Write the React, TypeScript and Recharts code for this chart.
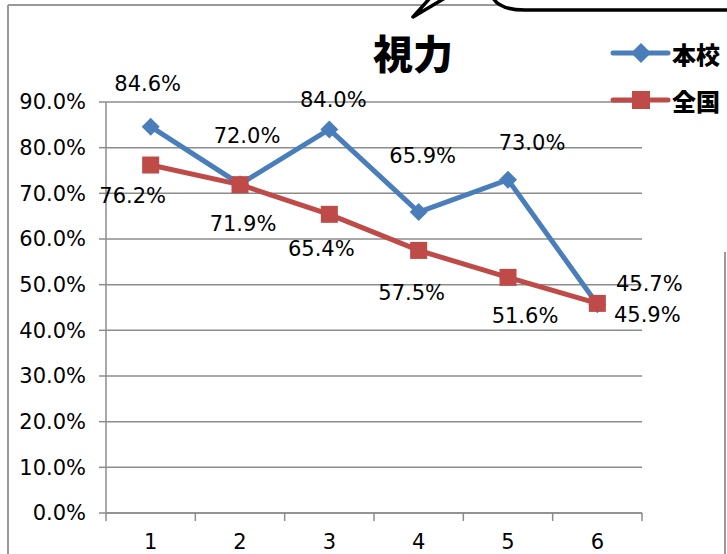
import React from "react";
import { LineChart, Line, XAxis, YAxis, CartesianGrid, LabelList } from "recharts";

const categories = [1, 2, 3, 4, 5, 6];
const schoolValues = [84.6, 72.0, 84.0, 65.9, 73.0, 45.7];
const nationalValues = [76.2, 71.9, 65.4, 57.5, 51.6, 45.9];
const yTicks = [0, 10, 20, 30, 40, 50, 60, 70, 80, 90];
const seriesNames = ["本校", "全国"];
const title = "視力";

// hand placed data labels, as in the original sheet
const schoolLabelOffsets = [
  [-3, -43], [7, -48], [4, -29], [4, -56], [24, -37], [52, -20],
];
const nationalLabelOffsets = [
  [-18, 31], [3, 39], [-8, 35], [-7, 43], [17, 39], [50, 12],
];

const data = categories.map((c, i) => ({
  x: c,
  school: schoolValues[i],
  national: nationalValues[i],
}));

const BLUE = "#4a7ebb";
const RED = "#be4b48";
const GRID = "#8c8c8c";
const FONT = "'DejaVu Sans', sans-serif";
const JP = "'Noto Sans CJK JP', sans-serif";

const W = 727;
const H = 554;
const PLOT_LEFT = 106;
const PLOT_RIGHT = 642;
const X_AXIS_H = 30;
const HALF_BAND = (PLOT_RIGHT - PLOT_LEFT) / categories.length / 2;

const Diamond = (props: any) => {
  const { cx, cy } = props;
  if (cx == null || cy == null) return null;
  const r = 9;
  return (
    <polygon
      points={`${cx},${cy - r} ${cx + r},${cy} ${cx},${cy + r} ${cx - r},${cy}`}
      fill={BLUE}
    />
  );
};

const Square = (props: any) => {
  const { cx, cy } = props;
  if (cx == null || cy == null) return null;
  const s = 17;
  return <rect x={cx - s / 2} y={cy - s / 2} width={s} height={s} fill={RED} />;
};

const makeLabel = (offsets: number[][]) => (props: any) => {
  const { x, y, value, index } = props;
  const [dx, dy] = offsets[index] || [0, 0];
  return (
    <text
      x={x + dx}
      y={y + dy}
      textAnchor="middle"
      dominantBaseline="central"
      fontFamily={FONT}
      fontSize={21}
      fill="#000"
    >
      {Number(value).toFixed(1)}%
    </text>
  );
};

const XTick = (props: any) => {
  const { x, y, payload } = props;
  const last = payload.value === categories[categories.length - 1];
  return (
    <g>
      <line x1={x - HALF_BAND} y1={y} x2={x - HALF_BAND} y2={y + 8} stroke={GRID} strokeWidth={1.5} />
      {last && (
        <line x1={x + HALF_BAND} y1={y} x2={x + HALF_BAND} y2={y + 8} stroke={GRID} strokeWidth={1.5} />
      )}
      <text
        x={x}
        y={y + 29}
        textAnchor="middle"
        dominantBaseline="central"
        fontFamily={FONT}
        fontSize={21}
        fill="#000"
      >
        {payload.value}
      </text>
    </g>
  );
};

const LegendRow = ({ y, color, name, marker }: any) => (
  <g>
    <line x1={613} y1={y} x2={668} y2={y} stroke={color} strokeWidth={5} strokeLinecap="round" />
    {marker === "diamond" ? (
      <polygon points={`641,${y - 10} 651,${y} 641,${y + 10} 631,${y}`} fill={color} />
    ) : (
      <rect x={632} y={y - 9} width={18} height={18} fill={color} />
    )}
    <text
      x={672}
      y={y}
      dominantBaseline="central"
      fontFamily={JP}
      fontWeight={900}
      fontSize={24}
      fill="#000"
    >
      {name}
    </text>
  </g>
);

export default function App() {
  return (
    <div
      style={{
        position: "absolute",
        left: 0,
        top: 0,
        width: W,
        height: H,
        background: "#fff",
        overflow: "hidden",
      }}
    >
      <LineChart
        width={W}
        height={H}
        data={data}
        margin={{ top: 102, right: W - PLOT_RIGHT, bottom: 41 - X_AXIS_H, left: 0 }}
      >
        <CartesianGrid vertical={false} stroke={GRID} strokeWidth={1.5} />
        <XAxis
          dataKey="x"
          type="number"
          domain={[0.5, 6.5]}
          ticks={categories}
          height={X_AXIS_H}
          tickLine={false}
          tickSize={0}
          tickMargin={0}
          axisLine={{ stroke: GRID, strokeWidth: 1.5 }}
          tick={<XTick />}
          interval={0}
        />
        <YAxis
          width={PLOT_LEFT}
          domain={[0, 90]}
          ticks={yTicks}
          interval={0}
          tickFormatter={(v: number) => `${v.toFixed(1)}%`}
          tickSize={7}
          tickMargin={13}
          axisLine={{ stroke: GRID, strokeWidth: 1.5 }}
          tickLine={{ stroke: GRID, strokeWidth: 1.5 }}
          tick={{ fill: "#000", fontSize: 21, fontFamily: FONT }}
        />
        <Line
          dataKey="school"
          name={seriesNames[0]}
          stroke={BLUE}
          strokeWidth={5}
          dot={<Diamond />}
          isAnimationActive={false}
        >
          <LabelList dataKey="school" content={makeLabel(schoolLabelOffsets)} />
        </Line>
        <Line
          dataKey="national"
          name={seriesNames[1]}
          stroke={RED}
          strokeWidth={5}
          dot={<Square />}
          isAnimationActive={false}
        >
          <LabelList dataKey="national" content={makeLabel(nationalLabelOffsets)} />
        </Line>
      </LineChart>

      <svg
        width={W}
        height={H}
        style={{ position: "absolute", left: 0, top: 0, pointerEvents: "none" }}
      >
        {/* chart frame */}
        <line x1={8} y1={5} x2={8} y2={H} stroke="#999" strokeWidth={2} />
        <line x1={8} y1={5} x2={500} y2={5} stroke="#999" strokeWidth={2} />
        <line x1={725} y1={252} x2={725} y2={H} stroke="#999" strokeWidth={2} />
        {/* callout shapes above the chart */}
        <path d="M 493 -2 Q 500 10 525 10 L 730 10 L 730 -2 Z" fill="#fff" stroke="none" />
        <path d="M 493 -2 Q 500 10 525 10 L 730 10" fill="none" stroke="#000" strokeWidth={3.5} />
        <path d="M 430 -2 L 413 17 L 445 -2" fill="#fff" stroke="#000" strokeWidth={3.5} strokeLinejoin="round" />
        <text
          x={413}
          y={52}
          textAnchor="middle"
          dominantBaseline="central"
          fontFamily={JP}
          fontWeight={900}
          fontSize={40}
          fill="#000"
        >
          {title}
        </text>
        <LegendRow y={53} color={BLUE} name={seriesNames[0]} marker="diamond" />
        <LegendRow y={100} color={RED} name={seriesNames[1]} marker="square" />
      </svg>
    </div>
  );
}
